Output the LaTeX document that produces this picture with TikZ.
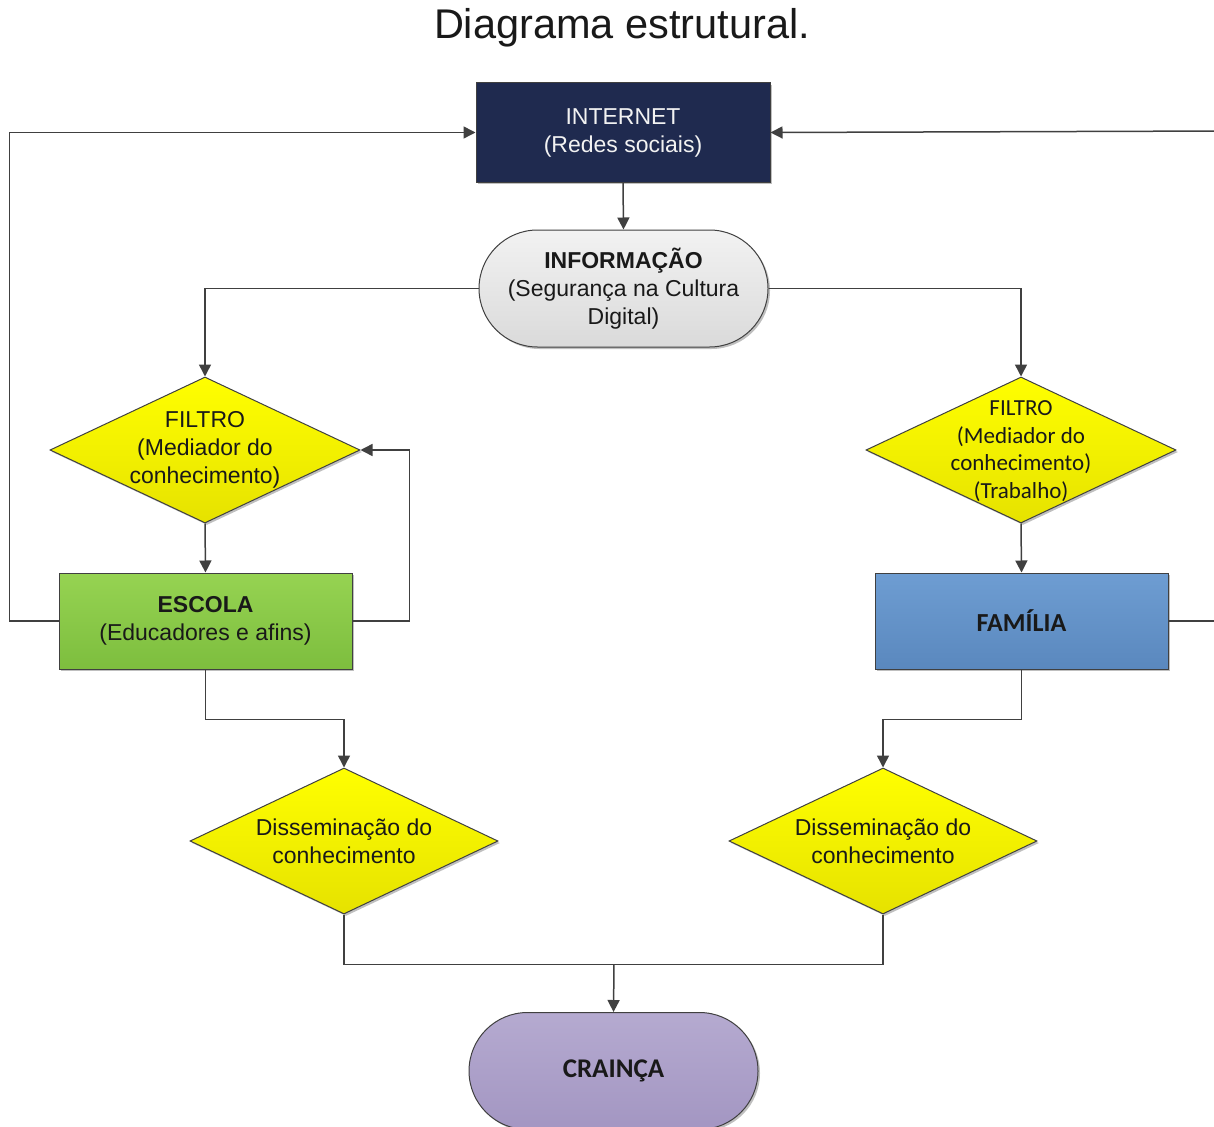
\documentclass[tikz,border=0pt]{standalone}
\usepackage{fontspec}
\setmainfont{Liberation Sans}
\newfontfamily\calib{Carlito}
\usetikzlibrary{shapes.geometric,shapes.misc,arrows.meta,shadows}
\definecolor{navyc}{HTML}{1F2A4F}
\definecolor{linec}{HTML}{404040}
\definecolor{yeltop}{HTML}{FFFF00}
\definecolor{yelbot}{HTML}{E6E200}
\definecolor{grntop}{HTML}{96D352}
\definecolor{grnbot}{HTML}{7DBE3E}
\definecolor{blutop}{HTML}{6E9DD2}
\definecolor{blubot}{HTML}{5A88BE}
\definecolor{purtop}{HTML}{B5AAD0}
\definecolor{purbot}{HTML}{A396C2}
\definecolor{grytop}{HTML}{F2F2F2}
\definecolor{grybot}{HTML}{DADADA}
\tikzset{
  shade/.style={drop shadow={shadow xshift=2pt,shadow yshift=-2pt,opacity=0.25,fill=black}},
  boxnode/.style={draw=linec,line width=1pt,rectangle,align=center,inner sep=0pt,shade},
  stadium/.style={draw=linec,line width=1pt,rounded rectangle,align=center,inner sep=0pt,minimum width=289pt,minimum height=117pt,shade},
  dia/.style={draw=linec,line width=1pt,diamond,inner sep=0pt,minimum width=310pt,minimum height=146pt,top color=yeltop,bottom color=yelbot,shade},
  txt/.style={align=center,font=\fontsize{23}{28}\selectfont,text=black!90},
  conn/.style={draw=linec,line width=1.5pt,-{Triangle[length=12pt,width=12pt]}},
  plain/.style={draw=linec,line width=1.5pt},
}
\begin{document}
\begin{tikzpicture}[x=1pt,y=-1pt]
\useasboundingbox (0,0) rectangle (1214,1126);
\fill[white] (0,0) rectangle (1214,1126);

\node[text=black!90,font=\fontsize{41.5}{48}\selectfont] (title) at (622,28) {Diagrama estrutural.};

\node[boxnode,fill=navyc,minimum width=294pt,minimum height=99pt,text=white!90!gray,font=\fontsize{23}{28}\selectfont] (internet) at (623,132.5) {INTERNET\\(Redes sociais)};

\node[stadium,top color=grytop,bottom color=grybot,font=\fontsize{23}{28}\selectfont,text=black!90] (info) at (623.5,288.5) {\textbf{INFORMAÇÃO}\\(Segurança na Cultura\\Digital)};

\node[dia,label={[txt]center:FILTRO\\(Mediador do\\conhecimento)}] (filL) at (205,450) {};
\node[dia,label={[txt,font=\calib\fontsize{23}{27.5}\selectfont,yshift=-1pt]center:FILTRO\\(Mediador do\\conhecimento)\\(Trabalho)}] (filR) at (1021,450) {};

\node[boxnode,top color=grntop,bottom color=grnbot,minimum width=293pt,minimum height=96pt,font=\fontsize{23}{28}\selectfont,text=black!90] (escola) at (205.5,621) {\textbf{ESCOLA}\\(Educadores e afins)};
\node[boxnode,top color=blutop,bottom color=blubot,minimum width=293pt,minimum height=96pt,font=\calib\bfseries\fontsize{26}{28}\selectfont,text=black!90] (familia) at (1021.5,621) {FAMÍLIA};

\node[dia,minimum width=308pt,label={[txt]center:Disseminação do\\conhecimento}] (disL) at (344,841) {};
\node[dia,minimum width=308pt,label={[txt]center:Disseminação do\\conhecimento}] (disR) at (883,841) {};

\node[stadium,top color=purtop,bottom color=purbot,font=\calib\bfseries\fontsize{27}{28}\selectfont,text=black!90] (crianca) at (613.5,1071) {CRAINÇA};

\coordinate (offA) at (1230,621);
\coordinate (offB) at (1230,131);
\coordinate (join) at (614,964);

\draw[conn] (internet.south) -- (info.north);
\draw[conn] (info.west) -| (filL.north);
\draw[conn] (info.east) -| (filR.north);
\draw[conn] (filL.south) -- (escola.north);
\draw[conn] (filR.south) -- (familia.north);
\draw[conn] (escola.east) -- ++(57,0) |- (filL.east);
\draw[conn] (escola.west) -- ++(-49,0) |- (internet.west);
\draw[plain] (familia.east) -- (offA);
\draw[conn] (offB) -- (internet.east);
\draw[conn] (escola.south) -- ++(0,50) -| (disL.north);
\draw[conn] (familia.south) -- ++(0,50) -| (disR.north);
\draw[plain] (disL.south) -- ++(0,50) -| (disR.south);
\draw[conn] (join) -- (crianca.north);
\end{tikzpicture}
\end{document}
